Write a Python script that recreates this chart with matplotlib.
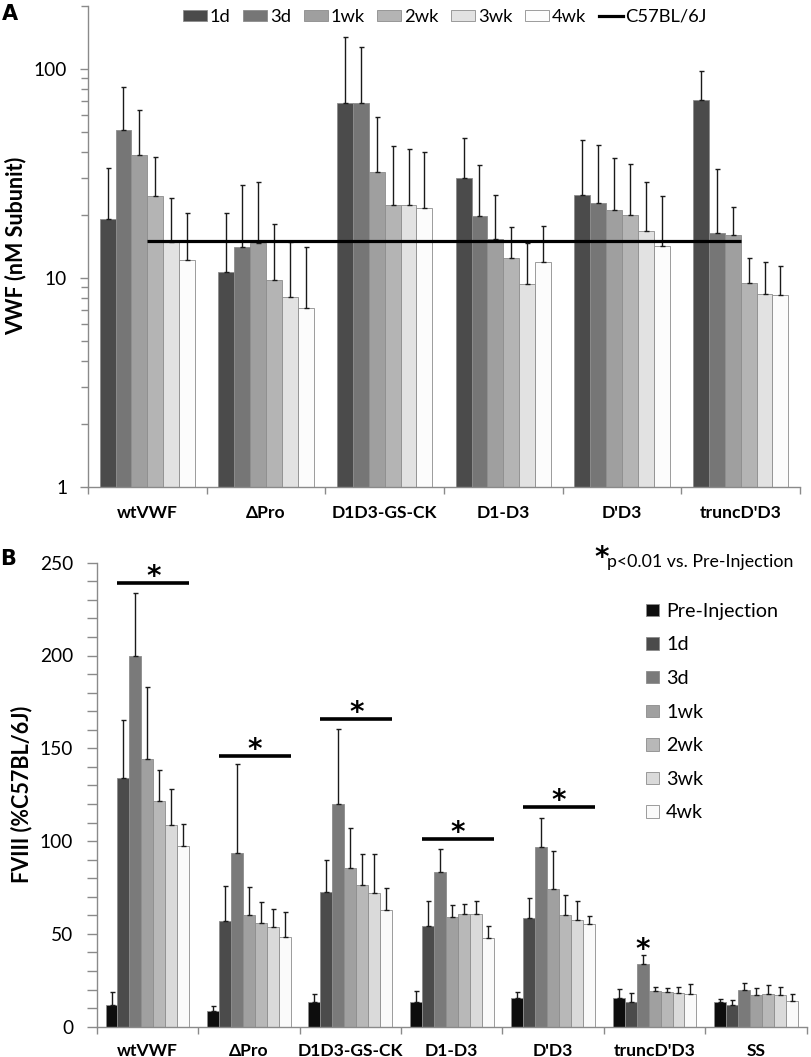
import numpy as np
import matplotlib
matplotlib.use('Agg')
import matplotlib.pyplot as plt
from matplotlib.patches import Rectangle, Patch
from matplotlib.lines import Line2D
from matplotlib.ticker import LogLocator, NullFormatter, FixedLocator, MultipleLocator, FixedFormatter

plt.rcParams['font.family'] = ['Lato', 'DejaVu Sans']

# ---------------- Panel A data ----------------
a_groups = ['wtVWF', 'ΔPro', 'D1D3-GS-CK', 'D1-D3', "D'D3", "truncD'D3"]
a_series = ['1d', '3d', '1wk', '2wk', '3wk', '4wk']
a_1d = [19.1, 10.7, 68.8, 30.0, 24.9, 70.9]
a_1d_err = [14.4, 9.7, 74.0, 16.9, 20.6, 26.3]
a_3d = [50.8, 14.0, 68.3, 19.7, 22.8, 16.4]
a_3d_err = [31.0, 13.9, 59.0, 15.0, 20.3, 16.6]
a_1wk = [38.6, 14.6, 32.2, 15.4, 21.2, 16.0]
a_1wk_err = [24.9, 14.2, 26.6, 9.5, 16.4, 5.8]
a_2wk = [24.6, 9.8, 22.3, 12.4, 20.0, 9.4]
a_2wk_err = [13.2, 8.3, 20.5, 5.1, 15.2, 3.1]
a_3wk = [14.8, 8.1, 22.3, 9.35, 16.7, 8.4]
a_3wk_err = [9.3, 6.7, 19.2, 5.25, 11.9, 3.5]
a_4wk = [12.2, 7.2, 21.6, 11.9, 14.2, 8.3]
a_4wk_err = [8.3, 6.8, 18.6, 5.8, 10.4, 3.1]
c57_level = 15.0

# ---------------- Panel B data ----------------
b_groups = ['wtVWF', 'ΔPro', 'D1D3-GS-CK', 'D1-D3', "D'D3", "truncD'D3", 'SS']
b_series = ['Pre-Injection', '1d', '3d', '1wk', '2wk', '3wk', '4wk']
b_pre = [11.7, 8.6, 13.5, 13.5, 15.5, 15.6, 13.1]
b_pre_err = [7.2, 2.6, 4.0, 5.9, 3.4, 4.9, 2.0]
b_1d = [134.0, 57.2, 72.8, 54.3, 58.8, 13.3, 11.7]
b_1d_err = [31.0, 18.8, 17.1, 13.3, 10.7, 4.9, 2.5]
b_3d = [199.8, 93.8, 119.9, 83.4, 96.7, 33.8, 19.9]
b_3d_err = [33.8, 47.8, 40.6, 12.4, 16.0, 5.0, 3.8]
b_1wk = [144.5, 60.4, 85.4, 59.0, 74.2, 19.2, 17.1]
b_1wk_err = [38.5, 14.7, 21.9, 6.6, 20.7, 2.0, 3.6]
b_2wk = [121.8, 56.1, 76.6, 60.6, 60.0, 18.7, 17.6]
b_2wk_err = [16.7, 11.1, 16.7, 5.4, 10.8, 2.2, 4.9]
b_3wk = [108.6, 53.9, 71.9, 60.6, 57.3, 18.3, 17.1]
b_3wk_err = [19.7, 9.4, 21.0, 7.0, 10.3, 3.1, 4.1]
b_4wk = [97.6, 48.5, 62.9, 47.8, 55.5, 17.6, 14.0]
b_4wk_err = [11.8, 13.5, 12.1, 6.3, 4.2, 5.6, 3.5]
b_sig_groups = [0, 1, 2, 3, 4]
b_sig_levels = [239.3, 146.0, 165.7, 101.2, 118.3]
b_single_star_group = 5
b_single_star_series = 2
b_single_star_level = 38.0

a_vals = [a_1d, a_3d, a_1wk, a_2wk, a_3wk, a_4wk]
a_errs = [a_1d_err, a_3d_err, a_1wk_err, a_2wk_err, a_3wk_err, a_4wk_err]
b_vals = [b_pre, b_1d, b_3d, b_1wk, b_2wk, b_3wk, b_4wk]
b_errs = [b_pre_err, b_1d_err, b_3d_err, b_1wk_err, b_2wk_err, b_3wk_err, b_4wk_err]

a_colors = ['#4b4b4b', '#767676', '#9f9f9f', '#b4b4b4', '#e2e2e2', '#fcfcfc']
b_colors = ['#0d0d0d', '#4b4b4b', '#7a7a7a', '#a0a0a0', '#b8b8b8', '#dadada', '#fafafa']
spine_col = '#8a8a8a'

W, H = 812, 1057
fig = plt.figure(figsize=(W / 100, H / 100), dpi=100)

def fx(px):
    return px / W

def fy(py):
    return 1 - py / H

# ---------------- Panel A ----------------
axA = fig.add_axes([fx(88), fy(486.7), fx(800) - fx(88), fy(6) - fy(486.7)])
nA = len(a_series)
wA = 0.134
xA = np.arange(len(a_groups))
for i in range(nA):
    pos = xA + (i - (nA - 1) / 2) * wA
    vals = np.array(a_vals[i])
    errs = np.array(a_errs[i])
    axA.bar(pos, vals, width=wA, color=a_colors[i], edgecolor='#8c8c8c', linewidth=0.6, zorder=2)
    axA.errorbar(pos, vals, yerr=[np.zeros_like(errs), errs], fmt='none', ecolor='#1a1a1a',
                 elinewidth=1.0, capsize=1.8, capthick=1.0, zorder=3)
axA.plot(xA, np.full(len(a_groups), c57_level), color='black', lw=2.3, zorder=4, solid_capstyle='butt')
axA.set_yscale('log')
axA.set_ylim(1, 200)
axA.set_xlim(-0.5, len(a_groups) - 0.5)
axA.yaxis.set_major_locator(FixedLocator([1, 10, 100]))
axA.yaxis.set_major_formatter(FixedFormatter(['1', '10', '100']))
axA.yaxis.set_minor_locator(LogLocator(base=10, subs=np.arange(2, 10)))
axA.yaxis.set_minor_formatter(NullFormatter())
axA.set_xticks(np.arange(-0.5, len(a_groups)))
axA.set_xticklabels([])
axA.set_xticks(xA, minor=True)
axA.set_xticklabels(a_groups, minor=True, fontweight='bold', fontsize=12.6)
axA.tick_params(axis='x', which='major', direction='out', length=5, color=spine_col, width=1)
axA.tick_params(axis='x', which='minor', length=0, pad=13)
axA.tick_params(axis='y', which='both', direction='out', color=spine_col, width=1, labelsize=13.8, pad=9)
axA.tick_params(axis='y', which='major', length=6)
axA.tick_params(axis='y', which='minor', length=5)
for s in ['top', 'right']:
    axA.spines[s].set_visible(False)
for s in ['left', 'bottom']:
    axA.spines[s].set_color(spine_col)
    axA.spines[s].set_linewidth(1)
axA.set_ylabel('VWF (nM Subunit)', fontweight='bold', fontsize=15.5, va='center')
axA.yaxis.set_label_coords((16 - 88) / 712, 0.5)

handlesA = [Patch(facecolor=c, edgecolor='#8c8c8c', linewidth=0.6) for c in a_colors]
handlesA.append(Line2D([0], [0], color='black', lw=2.3))
labelsA = a_series + ['C57BL/6J']
fig.legend(handlesA, labelsA, ncol=7, loc='center', bbox_to_anchor=(fx(445), fy(17)),
           bbox_transform=fig.transFigure, frameon=False, fontsize=13.2, handlelength=1.3,
           handleheight=0.6, handletextpad=0.15, columnspacing=0.7, borderpad=0, borderaxespad=0)

# ---------------- Panel B ----------------
axB = fig.add_axes([fx(96.7), fy(1026.7), fx(806.7) - fx(96.7), fy(562.7) - fy(1026.7)])
nB = len(b_series)
wB = 0.118
xB = np.arange(len(b_groups))
for i in range(nB):
    pos = xB + (i - (nB - 1) / 2) * wB
    vals = np.array(b_vals[i])
    errs = np.array(b_errs[i])
    axB.bar(pos, vals, width=wB, color=b_colors[i], edgecolor='#8c8c8c', linewidth=0.6, zorder=2)
    axB.errorbar(pos, vals, yerr=[np.zeros_like(errs), errs], fmt='none', ecolor='#1a1a1a',
                 elinewidth=1.0, capsize=1.8, capthick=1.0, zorder=3)
axB.set_ylim(0, 250)
axB.set_xlim(-0.5, len(b_groups) - 0.5)
axB.yaxis.set_major_locator(MultipleLocator(50))
axB.yaxis.set_minor_locator(MultipleLocator(10))
axB.set_xticks(np.arange(-0.5, len(b_groups)))
axB.set_xticklabels([])
axB.set_xticks(xB, minor=True)
axB.set_xticklabels(b_groups, minor=True, fontweight='bold', fontsize=12.6)
axB.tick_params(axis='x', which='major', direction='out', length=5, color=spine_col, width=1)
axB.tick_params(axis='x', which='minor', length=0, pad=11.5)
axB.tick_params(axis='y', which='both', direction='out', color=spine_col, width=1, labelsize=13.8, pad=10)
axB.tick_params(axis='y', which='major', length=7)
axB.tick_params(axis='y', which='minor', length=7)
for s in ['top', 'right']:
    axB.spines[s].set_visible(False)
for s in ['left', 'bottom']:
    axB.spines[s].set_color(spine_col)
    axB.spines[s].set_linewidth(1)
axB.set_ylabel('FVIII (%C57BL/6J)', fontweight='bold', fontsize=15.5, va='center')
axB.yaxis.set_label_coords((22 - 96.7) / 710, 0.5)

# significance bars
first = (1 - (nB - 1) / 2) * wB - wB / 2
last = ((nB - 1) / 2) * wB + wB / 2
for g, lev in zip(b_sig_groups, b_sig_levels):
    axB.plot([g + first, g + last], [lev, lev], color='black', lw=2.6, solid_capstyle='butt', zorder=4)
    axB.annotate('*', xy=((g + first + g + last) / 2, lev), xytext=(0, -1.5), textcoords='offset points',
                 ha='center', va='baseline', fontsize=20, fontweight='bold', family='DejaVu Sans')
sx = b_single_star_group + (b_single_star_series - (nB - 1) / 2) * wB
axB.annotate('*', xy=(sx, b_single_star_level), xytext=(0, -1.5), textcoords='offset points',
             ha='center', va='baseline', fontsize=20, fontweight='bold', family='DejaVu Sans')

# panel B legend
fig.text(fx(602), fy(566), '*', ha='center', va='baseline', fontsize=20, fontweight='bold', family='DejaVu Sans')
fig.text(fx(607), fy(567), 'p<0.01 vs. Pre-Injection', ha='left', va='baseline', fontsize=12.8)
for i, (name, col) in enumerate(zip(b_series, b_colors)):
    yc = 610 + 33.6 * i
    fig.add_artist(Rectangle((fx(646), fy(yc + 6.2)), fx(659) - fx(646), fy(yc - 6.2) - fy(yc + 6.2),
                             transform=fig.transFigure, facecolor=col, edgecolor='#8c8c8c', linewidth=0.6))
    fig.text(fx(666), fy(yc + 6.9), name, ha='left', va='baseline', fontsize=14.2)

# panel letters
fig.text(fx(2), fy(4), 'A', ha='left', va='top', fontsize=15, fontweight='heavy', family='DejaVu Sans')
fig.text(fx(0), fy(549), 'B', ha='left', va='top', fontsize=15, fontweight='heavy', family='DejaVu Sans')

fig.savefig('out.png', dpi=100)
